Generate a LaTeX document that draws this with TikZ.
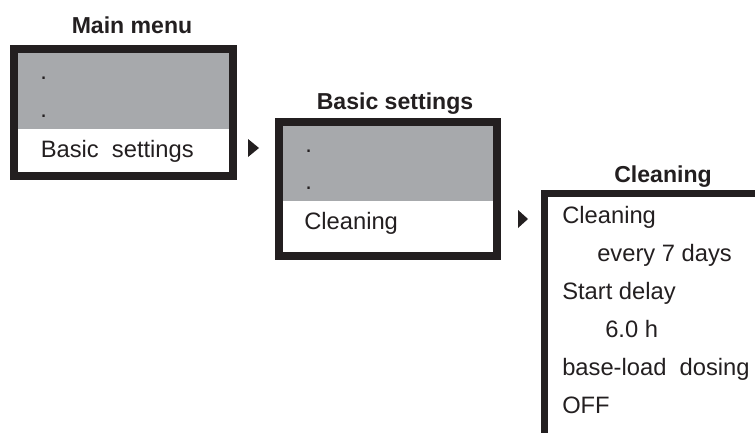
\documentclass[tikz,border=0pt]{standalone}
\usepackage{fontspec}
\setmainfont{Liberation Sans}
\definecolor{panelgray}{RGB}{167,169,172}
\definecolor{ink}{RGB}{35,31,32}

\begin{document}
\begin{tikzpicture}[
      x=0.75pt, y=-0.75pt,
      title/.style={font=\fontsize{17.3}{20}\selectfont\bfseries, text=ink, anchor=base, inner sep=0pt},
      entry/.style={font=\fontsize{17.8}{20}\selectfont, text=ink, anchor=base west, inner sep=0pt},
      frame/.style={draw=ink, line width=6pt},
      pointer/.style={fill=ink}
    ]
    \useasboundingbox (0,0) rectangle (755,432);

    % main menu
    \node[title] (mainT) at (132,33) {Main menu};
    \fill[panelgray] (14,49) rectangle (233,129);
    \draw[frame] (14,49) rectangle (233,176);
    \node[entry] (main1) at (40,79) {.};
    \node[entry] (main2) at (40,117) {.};
    \node[entry] (main3) at (40.5,157) {Basic~ settings};

    \fill[pointer] (248,139) -- (259,148) -- (248,157) -- cycle;

    % basic settings
    \node[title] (basicT) at (395,109) {Basic settings};
    \fill[panelgray] (279,122) rectangle (497,201);
    \draw[frame] (279,122) rectangle (497,256);
    \node[entry] (basic1) at (305,152) {.};
    \node[entry] (basic2) at (305,189) {.};
    \node[entry] (basic3) at (304,229) {Cleaning};

    \fill[pointer] (518,210) -- (528,219) -- (518,228) -- cycle;

    % cleaning
    \node[title] (cleanT) at (663,182) {Cleaning};
    \draw[frame, line width=5.25pt] (544.5,445) -- (544.5,193.5) -- (770,193.5);
    \node[entry] (clean1) at (562,223) {Cleaning};
    \node[entry] (clean2) at (597,261) {every 7 days};
    \node[entry] (clean3) at (562,299) {Start delay};
    \node[entry] (clean4) at (605,337) {6.0 h};
    \node[entry] (clean5) at (562,375) {base-load~ dosing};
    \node[entry] (clean6) at (562,413) {OFF};
\end{tikzpicture}
\end{document}
